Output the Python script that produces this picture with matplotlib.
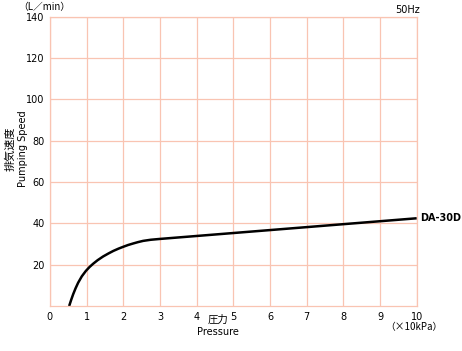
import matplotlib
matplotlib.use("Agg")
import matplotlib.pyplot as plt
import numpy as np

plt.rcParams['font.family'] = ['DejaVu Sans', 'Noto Sans CJK JP']

# pressure (x10 kPa) and pumping speed (L/min)
pressure = [0.525, 0.58, 0.635, 0.70, 0.77, 0.87, 0.98, 1.08, 1.18, 1.30, 1.45,
            1.60, 1.73, 1.87, 2.0, 2.13, 2.27, 2.40, 2.54, 2.75, 3.0, 10.0]
speed = [0.0, 3.0, 5.75, 8.6, 11.3, 14.4, 17.0, 18.9, 20.5, 22.2, 24.0,
         25.5, 26.7, 27.8, 28.7, 29.55, 30.3, 30.95, 31.55, 32.1, 32.5, 42.5]

xticks = list(range(0, 11))
yticks = [20, 40, 60, 80, 100, 120, 140]
grid_c = "#f9c4b2"
cjk = ['Noto Sans CJK JP', 'DejaVu Sans']

fig = plt.figure(figsize=(4.62, 3.51), dpi=100)
ax = fig.add_axes([0.108, 0.128, 0.794, 0.824])

ax.plot(pressure, speed, color="black", lw=1.8, solid_capstyle="butt")

ax.set_xlim(0, 10)
ax.set_ylim(0, 140)
ax.set_xticks(xticks)
ax.set_yticks(yticks)
ax.grid(True, color=grid_c, lw=0.9)
for s in ax.spines.values():
    s.set_color(grid_c)
    s.set_linewidth(0.9)
ax.tick_params(length=0, labelsize=7, pad=4)

fig.text(0.022, 0.575, "排気速度", rotation=90, ha="center", va="center",
         fontsize=8, family=cjk)
fig.text(0.049, 0.575, "Pumping Speed", rotation=90, ha="center", va="center", fontsize=7)
fig.text(0.472, 0.088, "圧力", ha="center", va="center", fontsize=7.5, family=cjk)
fig.text(0.472, 0.054, "Pressure", ha="center", va="center", fontsize=7)
fig.text(0.04, 0.995, "（L／min）", ha="left", va="top", fontsize=7, family=cjk)
fig.text(0.908, 0.985, "50Hz", ha="right", va="top", fontsize=7)
fig.text(0.958, 0.068, "（×10kPa）", ha="right", va="center", fontsize=7, family=cjk)
ax.text(10.1, 42.5, "DA-30D", ha="left", va="center", fontsize=7, fontweight="bold")

fig.savefig("out.png", dpi=100)
